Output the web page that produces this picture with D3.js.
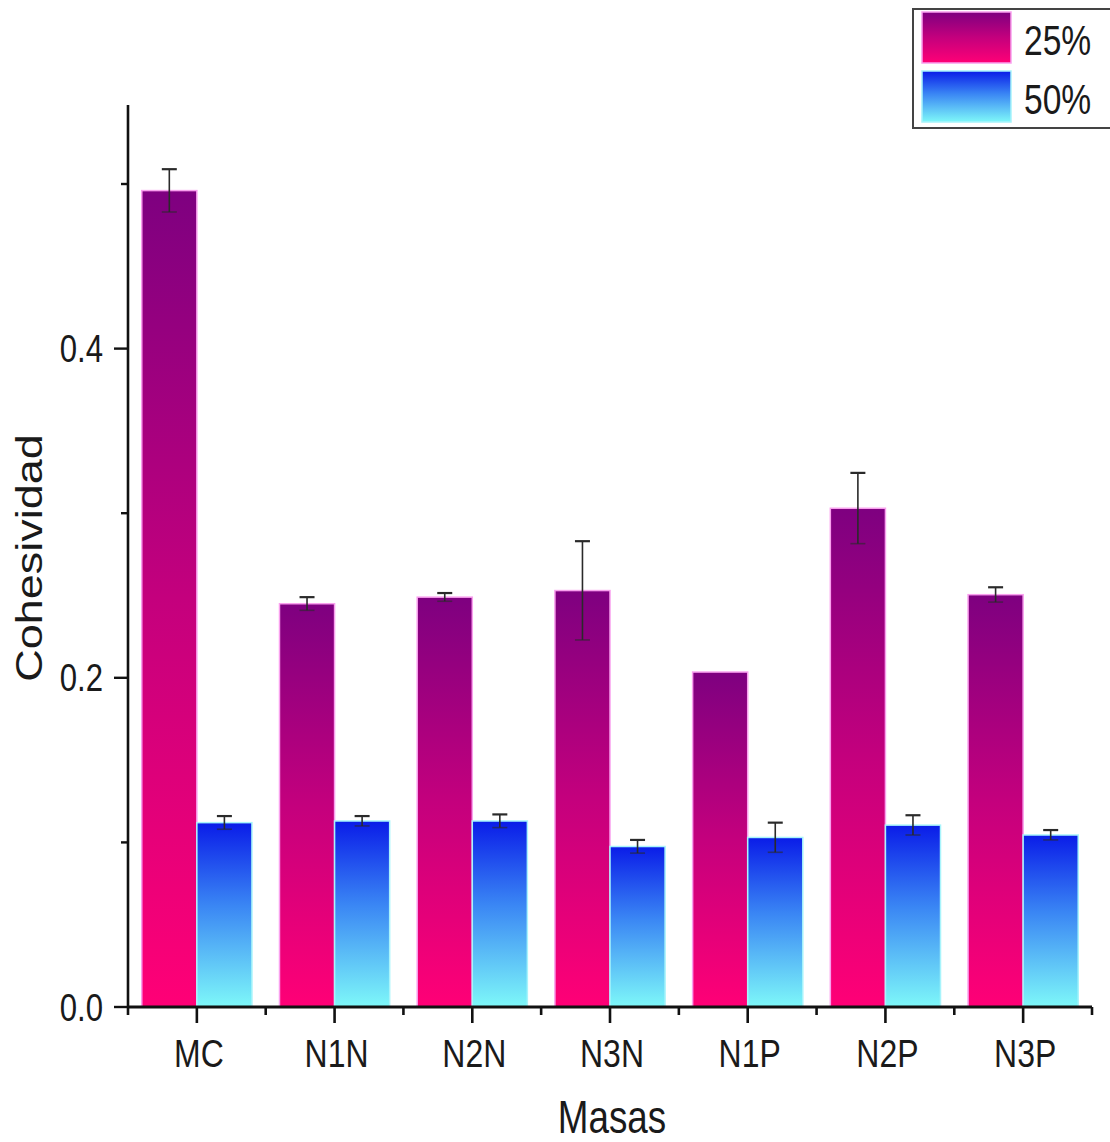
<!DOCTYPE html>
<html>
<head>
<meta charset="utf-8">
<script src="https://cdn.jsdelivr.net/npm/d3@7"></script>
<style>
  html, body { margin: 0; padding: 0; background: #fff; }
  svg { display: block; font-family: Arial, "Liberation Sans", Helvetica, sans-serif; }
</style>
</head>
<body>
<svg id="chart" width="1110" height="1142"></svg>
<script>
// Cohesividad por masa, para dos niveles de sustitución
const categories = ["MC", "N1N", "N2N", "N3N", "N1P", "N2P", "N3P"];
const series = ["25%", "50%"];
const values25 = [0.496, 0.245, 0.249, 0.253, 0.2035, 0.303, 0.2505];
const errors25 = [0.013, 0.004, 0.0025, 0.030, 0.0, 0.0215, 0.0045];
const values50 = [0.112, 0.113, 0.113, 0.0975, 0.103, 0.1105, 0.1045];
const errors50 = [0.004, 0.003, 0.004, 0.004, 0.009, 0.006, 0.003];
const yMajorTicks = [0.0, 0.2, 0.4];
const yMinorTicks = [0.1, 0.3, 0.5];
const xTitle = "Masas";
const yTitle = "Cohesividad";

const svg = d3.select("#chart");
const TEXT_SX = 0.82; // narrow glyph proportion used for all labels

const x0 = 128, x1 = 1092, yBase = 1007, yTop = 105;

const x = d3.scaleBand().domain(categories).range([x0, x1]).padding(0);
const xs = d3.scaleBand().domain(series).range([x.bandwidth() * 0.1, x.bandwidth() * 0.9]).padding(0);
const y = d3.scaleLinear().domain([0, 0.548]).range([yBase, yTop]);

// gradients
const defs = svg.append("defs");
const g25 = defs.append("linearGradient").attr("id", "grad25").attr("x1", 0).attr("y1", 0).attr("x2", 0).attr("y2", 1);
g25.append("stop").attr("offset", "0%").attr("stop-color", "#7e0080");
g25.append("stop").attr("offset", "50%").attr("stop-color", "#c4007d");
g25.append("stop").attr("offset", "100%").attr("stop-color", "#ff0076");
const g50 = defs.append("linearGradient").attr("id", "grad50").attr("x1", 0).attr("y1", 0).attr("x2", 0).attr("y2", 1);
g50.append("stop").attr("offset", "0%").attr("stop-color", "#0a1ce8");
g50.append("stop").attr("offset", "45%").attr("stop-color", "#3a86f4");
g50.append("stop").attr("offset", "100%").attr("stop-color", "#7ef8f9");

const fills = { "25%": "url(#grad25)", "50%": "url(#grad50)" };
const edges = { "25%": "#f9a0ee", "50%": "#a8f4fb" };

const rows = categories.map((c, i) => ({
  cat: c,
  items: [
    { s: "25%", v: values25[i], e: errors25[i] },
    { s: "50%", v: values50[i], e: errors50[i] }
  ]
}));

// bars
const groups = svg.append("g").selectAll("g").data(rows).join("g")
  .attr("transform", d => `translate(${x(d.cat)},0)`);

groups.selectAll("rect").data(d => d.items).join("rect")
  .attr("x", d => xs(d.s))
  .attr("y", d => y(d.v))
  .attr("width", xs.bandwidth())
  .attr("height", d => y(0) - y(d.v))
  .attr("fill", d => fills[d.s])
  .attr("stroke", d => edges[d.s])
  .attr("stroke-width", 1.5);

// error bars
const capW = 15;
const eb = groups.selectAll("g.err").data(d => d.items.filter(it => it.e > 0)).join("g")
  .attr("class", "err")
  .attr("stroke", "#2a2a2a")
  .attr("stroke-width", 1.6);
eb.append("line")
  .attr("x1", d => xs(d.s) + xs.bandwidth() / 2).attr("x2", d => xs(d.s) + xs.bandwidth() / 2)
  .attr("y1", d => y(d.v + d.e)).attr("y2", d => y(d.v - d.e));
eb.append("line")
  .attr("x1", d => xs(d.s) + xs.bandwidth() / 2 - capW / 2).attr("x2", d => xs(d.s) + xs.bandwidth() / 2 + capW / 2)
  .attr("y1", d => y(d.v + d.e)).attr("y2", d => y(d.v + d.e))
  .attr("stroke-width", 2.2);
eb.append("line")
  .attr("x1", d => xs(d.s) + xs.bandwidth() / 2 - capW / 2).attr("x2", d => xs(d.s) + xs.bandwidth() / 2 + capW / 2)
  .attr("y1", d => y(d.v - d.e)).attr("y2", d => y(d.v - d.e))
  .attr("stroke-opacity", 0.6);

// y axis
const yAxis = svg.append("g").attr("transform", `translate(${x0},0)`);
yAxis.append("line").attr("x1", 0).attr("x2", 0).attr("y1", yTop).attr("y2", yBase + 8)
  .attr("stroke", "#111").attr("stroke-width", 2.6);
yAxis.selectAll("line.major").data(yMajorTicks).join("line").attr("class", "major")
  .attr("x1", -14).attr("x2", 0).attr("y1", d => y(d)).attr("y2", d => y(d))
  .attr("stroke", "#111").attr("stroke-width", 2.4);
yAxis.selectAll("line.minor").data(yMinorTicks).join("line").attr("class", "minor")
  .attr("x1", -7).attr("x2", 0).attr("y1", d => y(d)).attr("y2", d => y(d))
  .attr("stroke", "#111").attr("stroke-width", 2.4);
yAxis.selectAll("text").data(yMajorTicks).join("text")
  .attr("transform", d => `translate(-25,${y(d)}) scale(${TEXT_SX},1)`)
  .attr("dy", "0.36em")
  .attr("text-anchor", "end")
  .attr("font-size", 38)
  .attr("fill", "#1a1a1a")
  .text(d => d3.format(".1f")(d));

// x axis
const xAxis = svg.append("g").attr("transform", `translate(0,${yBase})`);
xAxis.append("line").attr("x1", x0).attr("x2", x1).attr("y1", 0).attr("y2", 0)
  .attr("stroke", "#111").attr("stroke-width", 3);
xAxis.selectAll("line.major").data(categories).join("line").attr("class", "major")
  .attr("x1", d => x(d) + x.bandwidth() / 2).attr("x2", d => x(d) + x.bandwidth() / 2)
  .attr("y1", 0).attr("y2", 16)
  .attr("stroke", "#111").attr("stroke-width", 2.6);
const edgeTicks = categories.slice(1).map(c => x(c)).concat([x1]);
xAxis.selectAll("line.minor").data(edgeTicks).join("line").attr("class", "minor")
  .attr("x1", d => d).attr("x2", d => d).attr("y1", 0).attr("y2", 8)
  .attr("stroke", "#111").attr("stroke-width", 2.6);
xAxis.selectAll("text").data(categories).join("text")
  .attr("transform", d => `translate(${x(d) + x.bandwidth() / 2 + 2},60) scale(${TEXT_SX},1)`)
  .attr("text-anchor", "middle")
  .attr("font-size", 39)
  .attr("fill", "#1a1a1a")
  .text(d => d);

// axis titles
svg.append("text")
  .attr("transform", `translate(612,1133) scale(0.8,1)`)
  .attr("text-anchor", "middle")
  .attr("font-size", 46)
  .attr("fill", "#1a1a1a")
  .text(xTitle);
svg.append("text")
  .attr("transform", `translate(42,558) scale(0.8,1) rotate(-90)`)
  .attr("text-anchor", "middle")
  .attr("font-size", 45)
  .attr("fill", "#1a1a1a")
  .text(yTitle);

// legend
const legend = svg.append("g");
legend.append("rect")
  .attr("x", 913).attr("y", 9).attr("width", 220).attr("height", 119)
  .attr("fill", "#fff").attr("stroke", "#444").attr("stroke-width", 2);
const legItems = legend.selectAll("g.item").data(series).join("g").attr("class", "item")
  .attr("transform", (d, i) => `translate(0,${i * 59})`);
legItems.append("rect")
  .attr("x", 922).attr("y", 12).attr("width", 89).attr("height", 51)
  .attr("fill", d => fills[d])
  .attr("stroke", d => edges[d]).attr("stroke-width", 1.5);
legItems.append("text")
  .attr("transform", `translate(1024,55) scale(0.8,1)`)
  .attr("font-size", 42)
  .attr("fill", "#1a1a1a")
  .text(d => d);
</script>
</body>
</html>
